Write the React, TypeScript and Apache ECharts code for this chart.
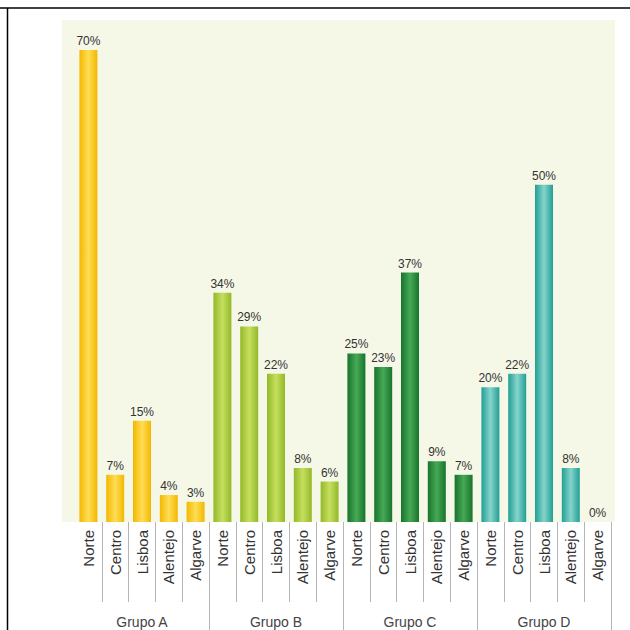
import React, { useEffect, useRef } from "react";
import * as echarts from "echarts";

const regions = ["Norte", "Centro", "Lisboa", "Alentejo", "Algarve"];
const groups = ["Grupo A", "Grupo B", "Grupo C", "Grupo D"];
const grupoA = [70, 7, 15, 4, 3];
const grupoB = [34, 29, 22, 8, 6];
const grupoC = [25, 23, 37, 9, 7];
const grupoD = [20, 22, 50, 8, 0];

const groupValues = [grupoA, grupoB, grupoC, grupoD];
const groupColors = [
  ["#f2b800", "#ffdd55", "#f2b800"],
  ["#93b82a", "#c6df5e", "#93b82a"],
  ["#17742c", "#47a956", "#17742c"],
  ["#239e94", "#86d4cc", "#239e94"],
];

export default function App() {
  const ref = useRef<HTMLDivElement>(null);
  useEffect(() => {
    if (!ref.current) return;
    const chart = echarts.init(ref.current, null, { renderer: "svg" });
    const categories: string[] = [];
    const data: any[] = [];
    groupValues.forEach((vals, gi) => {
      vals.forEach((v, ri) => {
        categories.push(regions[ri]);
        const c = groupColors[gi];
        data.push({
          value: v,
          itemStyle: {
            color: new echarts.graphic.LinearGradient(0, 0, 1, 0, [
              { offset: 0, color: c[0] },
              { offset: 0.5, color: c[1] },
              { offset: 1, color: c[2] },
            ]),
          },
        });
      });
    });
    chart.setOption({
      animation: false,
      backgroundColor: "#ffffff",
      graphic: [
        {
          type: "rect",
          z: -10,
          shape: { x: 62, y: 20, width: 553, height: 502 },
          style: { fill: "#f6f8e7" },
        },
        {
          type: "line",
          shape: { x1: 0, y1: 8, x2: 630, y2: 8 },
          style: { stroke: "#000", lineWidth: 1.5 },
        },
        {
          type: "line",
          shape: { x1: 7.5, y1: 8, x2: 7.5, y2: 630 },
          style: { stroke: "#000", lineWidth: 1.5 },
        },
      ],
      grid: {
        left: 75,
        right: 19,
        top: 50,
        bottom: 108,
        containLabel: false,
        outerBoundsMode: "none",
      },
      xAxis: [
        {
          type: "category",
          data: categories,
          position: "bottom",
          axisLine: { show: false },
          axisTick: {
            show: true,
            interval: (i: number) => i !== 0,
            length: 80,
            lineStyle: { color: "#b5b5b5", width: 1 },
          },
          axisLabel: {
            interval: 0,
            rotate: 90,
            margin: 8,
            fontSize: 15,
            color: "#333",
            fontFamily: "Liberation Sans, Arial, sans-serif",
          },
        },
        {
          type: "category",
          data: groups,
          position: "bottom",
          axisLine: { show: false },
          axisTick: {
            show: true,
            interval: (i: number) => i !== 0,
            length: 110,
            lineStyle: { color: "#b5b5b5", width: 1 },
          },
          axisLabel: {
            interval: 0,
            margin: 93,
            fontSize: 14,
            color: "#444",
            fontFamily: "Liberation Sans, Arial, sans-serif",
          },
        },
      ],
      yAxis: {
        type: "value",
        min: 0,
        max: 70,
        show: false,
        splitLine: { show: false },
      },
      series: [
        {
          type: "bar",
          xAxisIndex: 0,
          data,
          barWidth: 18,
          label: {
            show: true,
            position: "top",
            distance: 3,
            formatter: (p: any) => p.value + "%",
            fontSize: 12,
            color: "#333",
            fontFamily: "Liberation Sans Narrow, Liberation Sans, Arial, sans-serif",
          },
        },
      ],
    });
    return () => chart.dispose();
  }, []);
  return (
    <div
      ref={ref}
      style={{ position: "absolute", left: 0, top: 0, width: 630, height: 630 }}
    />
  );
}
